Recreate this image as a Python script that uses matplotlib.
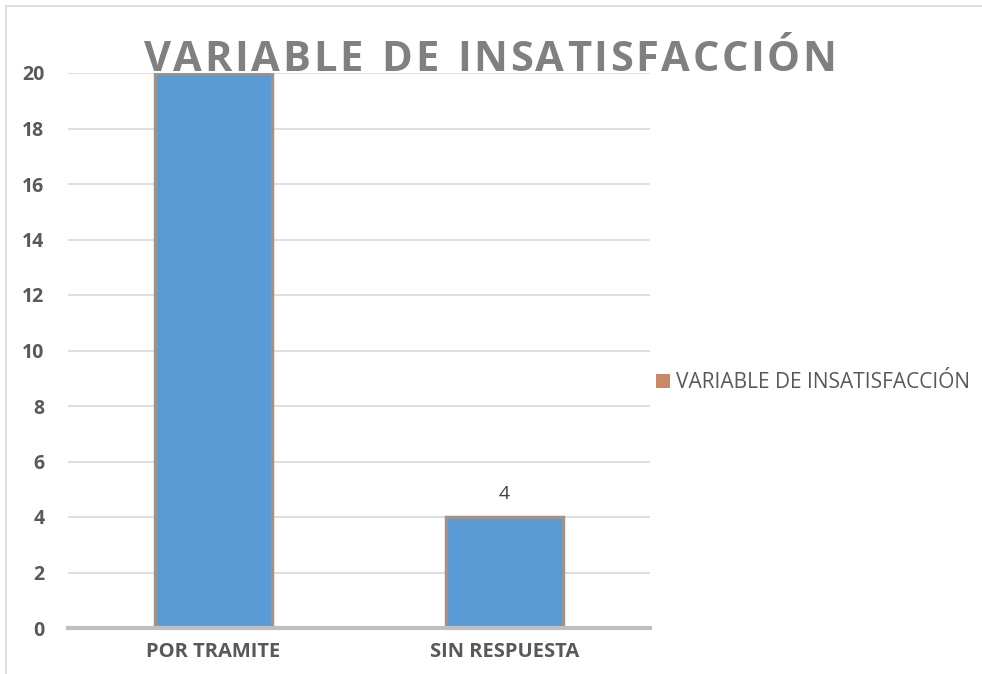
import matplotlib.pyplot as plt
from matplotlib.lines import Line2D
from matplotlib.patches import Patch

categories = ["POR TRAMITE", "SIN RESPUESTA"]
values = [20, 4]
series_name = "VARIABLE DE INSATISFACCIÓN"
yticks = [0, 2, 4, 6, 8, 10, 12, 14, 16, 18, 20]

W, H = 982, 674
fig = plt.figure(figsize=(W / 100, H / 100), dpi=100)
plt.rcParams['font.family'] = ['Open Sans', 'DejaVu Sans']

# plot area in pixels: x 68..650, y 73..628
ax = fig.add_axes([68 / W, 1 - 628 / H, (650 - 68) / W, (628 - 73) / H])

x = range(len(categories))
bars = ax.bar(x, values, width=0.4, color='#5b9bd5', edgecolor='#9e928c',
              linewidth=2.5, zorder=3)

# data label only on the second bar
ax.text(1, values[1] + 0.5, str(values[1]), ha='center', va='bottom',
        fontsize=14, color='#404040')

ax.set_xlim(-0.5, 1.5)
ax.set_ylim(0, 20)
ax.set_yticks(yticks)
ax.set_xticks(list(x))
ax.set_xticklabels(categories)
for lab in ax.get_xticklabels():
    lab.set_fontweight('bold')
    lab.set_color('#595959')
    lab.set_fontsize(14.5)
for lab in ax.get_yticklabels():
    lab.set_fontweight('bold')
    lab.set_color('#595959')
    lab.set_fontsize(14)
ax.tick_params(axis='both', length=0)
ax.tick_params(axis='x', pad=10)
ax.tick_params(axis='y', pad=17)

ax.grid(axis='y', color='#d9d9d9', linewidth=1.2, zorder=0)
for s in ['top', 'right', 'left']:
    ax.spines[s].set_visible(False)
ax.spines['bottom'].set_color('#bfbfbf')
ax.spines['bottom'].set_linewidth(3)
ax.spines['bottom'].set_zorder(4)

# title with letter spacing: place characters one by one
renderer = fig.canvas.get_renderer()
title_kw = dict(fontsize=30, fontweight='bold', color='#808080', va='baseline', ha='left')
spacing = 2.6
widths = []
for ch in series_name:
    t = fig.text(0, 0, ch if ch != ' ' else 'I', **title_kw)
    widths.append(t.get_window_extent(renderer).width)
    t.remove()
total = sum(widths) + spacing * (len(series_name) - 1)
xpos = 490 - total / 2
for ch, w in zip(series_name, widths):
    if ch != ' ':
        fig.text(xpos / W, 1 - 71 / H, ch, **title_kw)
    xpos += w + spacing

leg = fig.legend(handles=[Patch(facecolor='#c8896a', edgecolor='none', label=series_name)],
                 loc='center left', bbox_to_anchor=(656 / W, 1 - 383 / H),
                 frameon=False, fontsize=15, handlelength=0.65, handleheight=0.65,
                 handletextpad=0.3, borderpad=0, borderaxespad=0)
for t in leg.get_texts():
    t.set_color('#595959')

# outer chart border (top and left visible)
fig.add_artist(Line2D([6 / W, 1], [1 - 6 / H, 1 - 6 / H], color='#d9d9d9', lw=1.2))
fig.add_artist(Line2D([6 / W, 6 / W], [0, 1 - 6 / H], color='#d9d9d9', lw=1.2))

fig.savefig('out.png', dpi=100)
